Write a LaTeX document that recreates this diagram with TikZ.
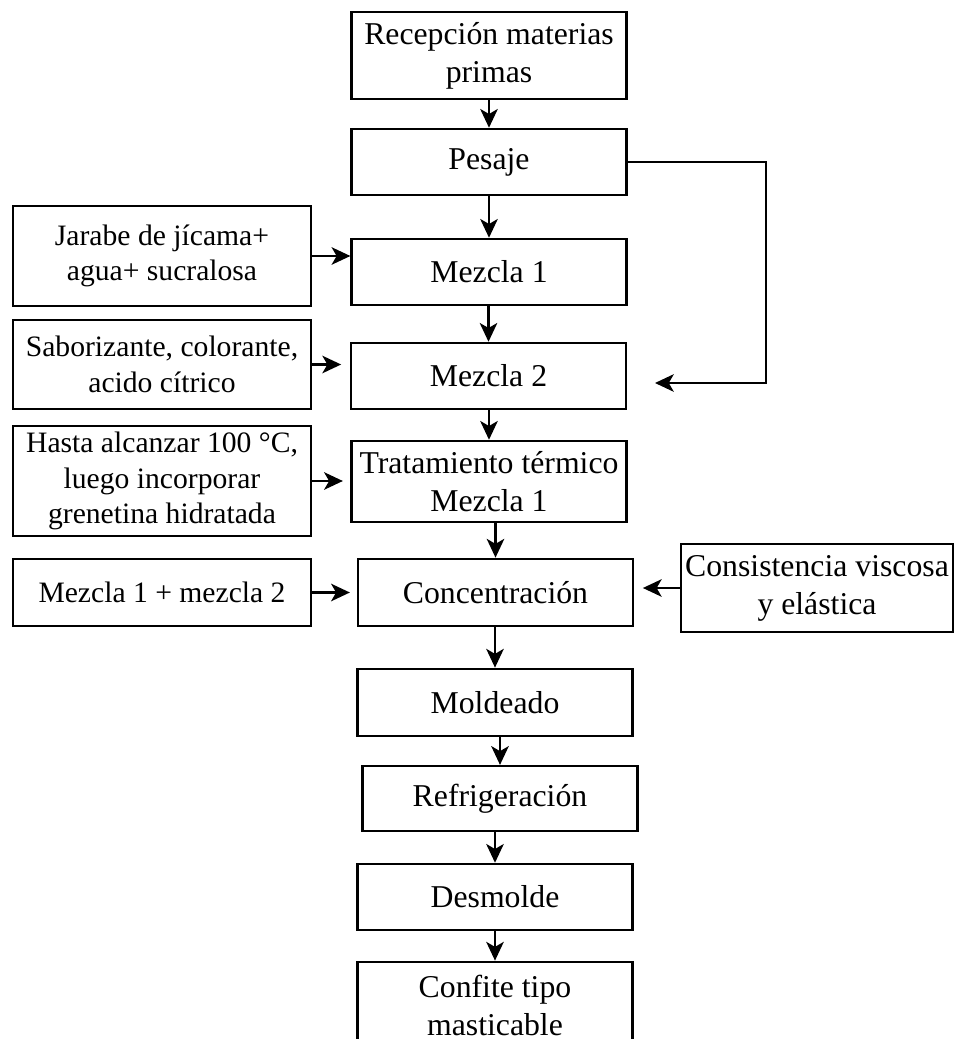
\documentclass[tikz,border=0pt]{standalone}
\usepackage{fontspec}
\setmainfont{Liberation Serif}
\usetikzlibrary{arrows.meta}

\begin{document}
\begin{tikzpicture}[x=0.4pt, y=-0.4pt,
  mainbox/.style={draw, rectangle, align=center, inner sep=0pt, line width=0.9pt, minimum width=110pt, font=\fontsize{12.7}{15.2}\selectfont},
  inbox/.style={draw, rectangle, align=center, inner sep=0pt, line width=0.9pt, minimum width=119pt, font=\fontsize{11.85}{14.3}\selectfont},
  arr/.style={-{Stealth[length=7.5pt, width=7pt, inset=2pt]}, line width=0.9pt}]
\useasboundingbox (0,0) rectangle (955,1039);
\node[mainbox, minimum height=35pt] (M0) at (489,55.5) {Recepción materias\\primas};
\node[mainbox, minimum height=26.5pt] (M1) at (489,162) {Pesaje};
\node[mainbox, minimum height=26.5pt] (M2) at (489,272) {Mezcla 1};
\node[mainbox, minimum height=26.5pt] (M3) at (488.5,376) {Mezcla 2};
\node[mainbox, minimum height=32.5pt] (M4) at (489,481.5) {Tratamiento térmico\\Mezcla 1};
\node[mainbox, minimum height=27pt] (M5) at (495.5,592.5) {Concentración};
\node[mainbox, minimum height=27pt] (M6) at (495,702.5) {Moldeado};
\node[mainbox, minimum height=26pt] (M7) at (500,798.5) {Refrigeración};
\node[mainbox, minimum height=26.5pt] (M8) at (495,897) {Desmolde};
\node[mainbox, minimum height=35pt] (M9) at (495,1005.5) {Confite tipo\\masticable};
\node[inbox, minimum height=40pt] (I0) at (162,256) {Jarabe de jícama+\\agua+ sucralosa};
\node[inbox, minimum height=35.5pt] (I1) at (162,364.5) {Saborizante, colorante,\\acido cítrico};
\node[inbox, minimum height=44pt] (I2) at (162,481) {Hasta alcanzar 100 °C,\\luego incorporar\\grenetina hidratada};
\node[inbox, minimum height=27pt] (I3) at (162,592.5) {Mezcla 1 + mezcla 2};
\node[mainbox, minimum width=109pt, minimum height=35pt] (R0) at (817,588) {Consistencia viscosa\\y elástica};
\coordinate (FB) at (655,383);
% proceso principal
\draw[arr] (M1.north |- M0.south) -- (M1.north);
\draw[arr] (M2.north |- M1.south) -- (M2.north);
\draw[arr] (M3.north |- M2.south) -- (M3.north);
\draw[arr] (M4.north |- M3.south) -- (M4.north);
\draw[arr] (M5.north |- M4.south) -- (M5.north);
\draw[arr] (M6.north |- M5.south) -- (M6.north);
\draw[arr] (M7.north |- M6.south) -- (M7.north);
\draw[arr] (M8.north |- M7.south) -- (M8.north);
\draw[arr] (M9.north |- M8.south) -- (M9.north);
% entradas
\draw[arr] (I0.east) -- (I0.east -| M2.west);
\draw[arr, shorten >=3.5pt] (I1.east) -- (I1.east -| M3.west);
\draw[arr, shorten >=3pt] (I2.east) -- (I2.east -| M4.west);
\draw[arr, shorten >=2.8pt] (I3.east) -- (I3.east -| M5.west);
\draw[arr, shorten >=3.5pt] (R0.west) -- (R0.west -| M5.east);
\draw[arr] (M1.east) -- ++(138,0) |- (FB);
\end{tikzpicture}
\end{document}
